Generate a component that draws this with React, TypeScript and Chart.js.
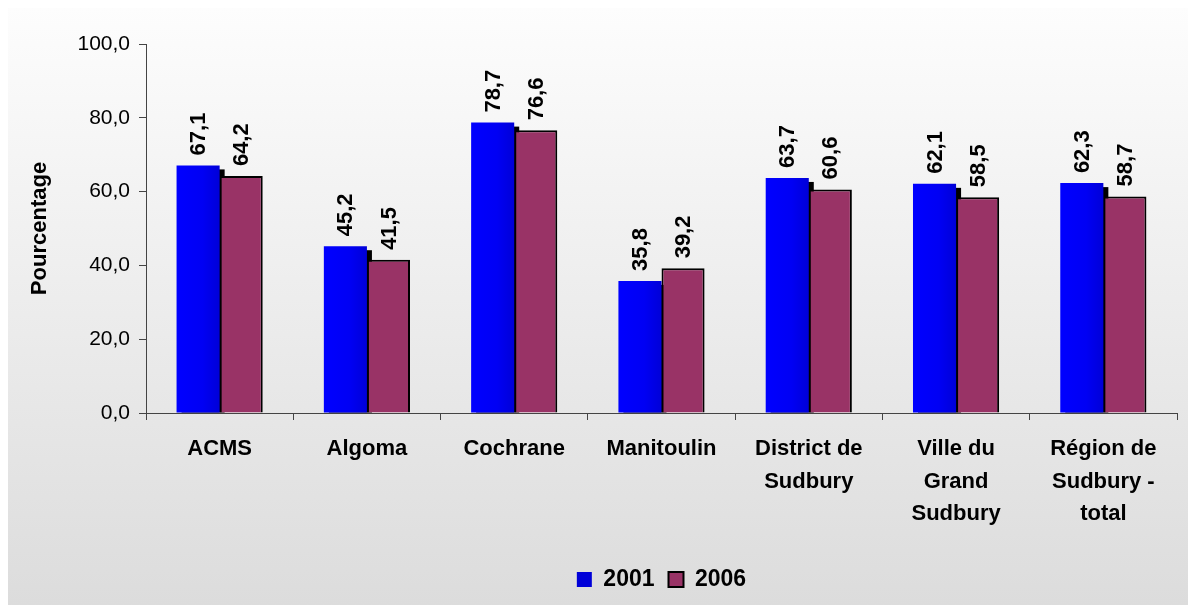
import React, { useEffect, useRef } from "react";
import { Chart, registerables } from "chart.js";

Chart.register(...registerables);

const categories: (string | string[])[] = [
  "ACMS",
  "Algoma",
  "Cochrane",
  "Manitoulin",
  ["District de", "Sudbury"],
  ["Ville du", "Grand", "Sudbury"],
  ["Région de", "Sudbury -", "total"],
];
const values2001 = [67.1, 45.2, 78.7, 35.8, 63.7, 62.1, 62.3];
const values2006 = [64.2, 41.5, 76.6, 39.2, 60.6, 58.5, 58.7];
const seriesLabels = ["2001", "2006"];
const yAxisTitle = "Pourcentage";
const yMin = 0;
const yMax = 100;
const yStep = 20;

const FONT = '"Liberation Sans", Arial, Helvetica, sans-serif';
const fmt = (v: number) => v.toFixed(1).replace(".", ",");
const CAT_PCT = 0.585;

const backgroundPlugin = {
  id: "bgGradient",
  beforeDraw(chart: any) {
    const { ctx, width, height } = chart;
    const g = ctx.createLinearGradient(0, 0, 0, height);
    g.addColorStop(0, "#fdfdfd");
    g.addColorStop(1, "#dcdcdc");
    ctx.save();
    ctx.fillStyle = g;
    ctx.fillRect(0, 0, width, height);
    ctx.restore();
  },
};

const shadowPlugin = {
  id: "barShadow",
  beforeDatasetsDraw(chart: any) {
    const meta = chart.getDatasetMeta(0);
    const ctx = chart.ctx;
    ctx.save();
    ctx.fillStyle = "#000";
    meta.data.forEach((bar: any) => {
      const { x, y, base, width } = bar.getProps(["x", "y", "base", "width"], true);
      ctx.fillRect(x - width / 2 + 5, y + 4, width, base - y - 4);
    });
    ctx.restore();
  },
};

const labelPlugin = {
  id: "valueLabels",
  afterDatasetsDraw(chart: any) {
    const ctx = chart.ctx;
    ctx.save();
    ctx.font = `bold 22px ${FONT}`;
    ctx.fillStyle = "#000";
    ctx.textAlign = "left";
    ctx.textBaseline = "middle";
    chart.data.datasets.forEach((ds: any, di: number) => {
      const meta = chart.getDatasetMeta(di);
      meta.data.forEach((bar: any, i: number) => {
        const { x, y } = bar.getProps(["x", "y"], true);
        ctx.save();
        ctx.translate(x, y - 10);
        ctx.rotate(-Math.PI / 2);
        ctx.fillText(fmt(ds.data[i]), 0, 1);
        ctx.restore();
      });
    });
    ctx.restore();
  },
};

function blueFill(c: any) {
  const chart = c.chart;
  const xs = chart.scales && chart.scales.x;
  if (c.type !== "data" || !xs || !chart.chartArea) return "#0000ff";
  const center = xs.getPixelForValue(c.dataIndex);
  const catW = xs.width / categories.length;
  const left = center - (catW * CAT_PCT) / 2;
  const g = chart.ctx.createLinearGradient(left, 0, center, 0);
  g.addColorStop(0, "#0000ff");
  g.addColorStop(0.6, "#0000f4");
  g.addColorStop(1, "#0000d8");
  return g;
}

export default function App() {
  const canvasRef = useRef<HTMLCanvasElement | null>(null);

  useEffect(() => {
    if (!canvasRef.current) return;
    const chart = new Chart(canvasRef.current, {
      type: "bar",
      data: {
        labels: categories as any,
        datasets: [
          {
            label: seriesLabels[0],
            data: values2001,
            backgroundColor: blueFill as any,
            borderWidth: 0,
            categoryPercentage: CAT_PCT,
            barPercentage: 1,
          },
          {
            label: seriesLabels[1],
            data: values2006,
            backgroundColor: "#993366",
            borderColor: "#000000",
            borderWidth: 2,
            categoryPercentage: CAT_PCT,
            barPercentage: 1,
          },
        ],
      },
      options: {
        animation: false,
        responsive: false,
        maintainAspectRatio: false,
        events: [],
        layout: { padding: { left: 0, top: 36, right: 18, bottom: 4 } },
        plugins: {
          tooltip: { enabled: false },
          legend: {
            display: true,
            position: "bottom",
            fullSize: false,
            labels: {
              color: "#000",
              font: { family: FONT, size: 23, weight: "bold" },
              boxWidth: 15,
              boxHeight: 15,
              padding: 14,
            },
          },
        },
        scales: {
          x: {
            afterFit: (s: any) => {
              s.height = 141;
            },
            grid: {
              display: true,
              drawOnChartArea: false,
              drawTicks: true,
              tickLength: 7,
              color: "#444",
              offset: true,
            },
            border: { display: true, color: "#444", width: 1 },
            ticks: {
              color: "#000",
              font: { family: FONT, size: 22, weight: "bold", lineHeight: 1.48 },
              padding: 13,
              maxRotation: 0,
              autoSkip: false,
            },
          },
          y: {
            min: yMin,
            max: yMax,
            afterFit: (s: any) => {
              s.width = 138;
            },
            grid: {
              display: true,
              drawOnChartArea: false,
              drawTicks: true,
              tickLength: 7,
              color: "#444",
            },
            border: { display: true, color: "#444", width: 1 },
            ticks: {
              stepSize: yStep,
              color: "#000",
              font: { family: FONT, size: 21 },
              padding: 9,
              callback: (v: any) => fmt(Number(v)),
            },
            title: {
              display: true,
              text: yAxisTitle,
              color: "#000",
              font: { family: FONT, size: 22, weight: "bold" },
              padding: { top: 19, bottom: 0 },
            },
          },
        },
      },
      plugins: [backgroundPlugin, shadowPlugin, labelPlugin],
    });
    return () => chart.destroy();
  }, []);

  return (
    <div style={{ width: 1187, height: 597, borderRight: "1px solid #000" }}>
      <canvas ref={canvasRef} width={1187} height={597} style={{ display: "block" }} />
    </div>
  );
}
